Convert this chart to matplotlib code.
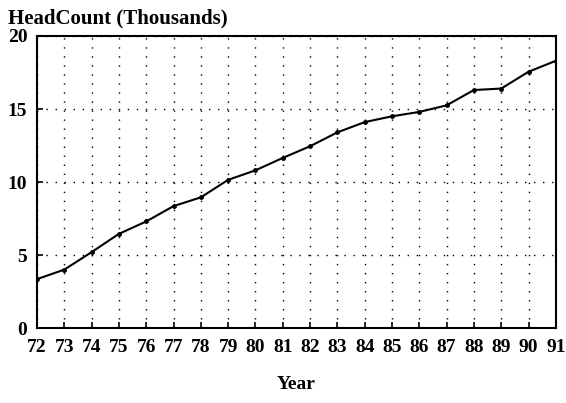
import matplotlib
matplotlib.use('Agg')
import matplotlib.pyplot as plt

# data
years = list(range(72, 92))
headcount = [3.35, 4.0, 5.2, 6.45, 7.3, 8.35, 8.95, 10.15, 10.8, 11.65,
             12.45, 13.4, 14.1, 14.5, 14.8, 15.25, 16.3, 16.4, 17.55, 18.3]
y_ticks = [0, 5, 10, 15, 20]

plt.rcParams['font.family'] = ['Liberation Serif', 'DejaVu Serif']
plt.rcParams['font.weight'] = 'bold'

fig = plt.figure(figsize=(5.66, 4.03), dpi=100)
ax = fig.add_axes([0.0654, 0.186, 0.9166, 0.7247])

ax.plot(years, headcount, color='black', linewidth=1.5, marker='o', markersize=2.5)

ax.set_xlim(72, 91)
ax.set_ylim(0, 20)
ax.set_xticks(years)
ax.set_xticklabels([str(y) for y in years])
ax.set_yticks(y_ticks)

ax.grid(True, color='black', linestyle=(0, (1, 5.5)), linewidth=1.0)
for s in ax.spines.values():
    s.set_linewidth(1.5)
    s.set_color('black')
ax.tick_params(direction='in', length=4, width=1.2, labelsize=14)
ax.tick_params(axis='x', pad=8)
ax.tick_params(axis='y', pad=7)

fig.text(0.014, 0.955, 'HeadCount (Thousands)', fontsize=15, ha='left', va='center')
fig.text(0.523, 0.045, 'Year', fontsize=14, ha='center', va='center')

fig.savefig('out.png', dpi=100)
